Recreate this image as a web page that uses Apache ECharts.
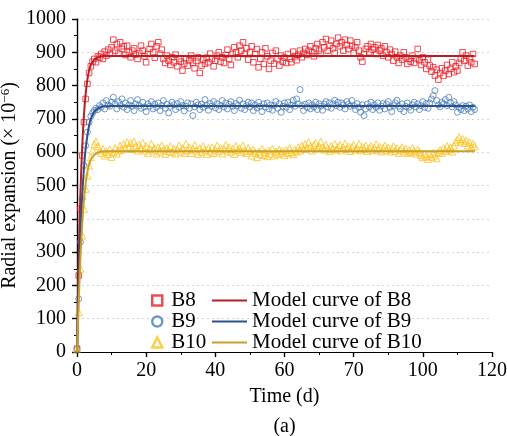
<!DOCTYPE html>
<html>
<head>
<meta charset="utf-8">
<script src="https://cdn.jsdelivr.net/npm/echarts@6/dist/echarts.min.js"></script>
<style>
  html, body { margin: 0; padding: 0; background: #fff; }
  #chart { width: 507px; height: 436px; }
</style>
</head>
<body>
<div id="chart"></div>
<script>
// measurement times (d)
const days = [
  0, 0.5, 1, 1.5, 2, 2.5, 3, 3.5, 4, 4.5, 5, 5.5, 6, 6.5, 7, 7.5, 8, 8.5, 9, 9.5,
  10, 10.5, 11, 11.5, 12, 12.5, 13, 13.5, 14, 14.5, 15, 15.5, 16, 16.5, 17, 17.5, 18, 18.5, 19, 19.5,
  20, 20.5, 21, 21.5, 22, 22.5, 23, 23.5, 24, 24.5, 25, 25.5, 26, 26.5, 27, 27.5, 28, 28.5, 29, 29.5,
  30, 30.5, 31, 31.5, 32, 32.5, 33, 33.5, 34, 34.5, 35, 35.5, 36, 36.5, 37, 37.5, 38, 38.5, 39, 39.5,
  40, 40.5, 41, 41.5, 42, 42.5, 43, 43.5, 44, 44.5, 45, 45.5, 46, 46.5, 47, 47.5, 48, 48.5, 49, 49.5,
  50, 50.5, 51, 51.5, 52, 52.5, 53, 53.5, 54, 54.5, 55, 55.5, 56, 56.5, 57, 57.5, 58, 58.5, 59, 59.5,
  60, 60.5, 61, 61.5, 62, 62.5, 63, 63.5, 64, 64.5, 65, 65.5, 66, 66.5, 67, 67.5, 68, 68.5, 69, 69.5,
  70, 70.5, 71, 71.5, 72, 72.5, 73, 73.5, 74, 74.5, 75, 75.5, 76, 76.5, 77, 77.5, 78, 78.5, 79, 79.5,
  80, 80.5, 81, 81.5, 82, 82.5, 83, 83.5, 84, 84.5, 85, 85.5, 86, 86.5, 87, 87.5, 88, 88.5, 89, 89.5,
  90, 90.5, 91, 91.5, 92, 92.5, 93, 93.5, 94, 94.5, 95, 95.5, 96, 96.5, 97, 97.5, 98, 98.5, 99, 99.5,
  100, 100.5, 101, 101.5, 102, 102.5, 103, 103.5, 104, 104.5, 105, 105.5, 106, 106.5, 107, 107.5, 108, 108.5, 109, 109.5,
  110, 110.5, 111, 111.5, 112, 112.5, 113, 113.5, 114, 114.5, 115
];

// measured radial expansion (x 10^-6)
const b8 = [
  10, 230, 430, 590, 690, 760, 805, 838, 858, 872, 880, 870, 888, 884, 895, 880, 902, 890, 908, 895,
  915, 938, 905, 925, 898, 930, 910, 918, 892, 920, 900, 885, 905, 912, 893, 880, 898, 920, 905, 888,
  870, 895, 910, 925, 900, 884, 918, 930, 896, 908, 880, 868, 890, 875, 862, 885, 870, 893, 858, 880,
  872, 845, 866, 882, 860, 876, 890, 868, 852, 874, 885, 838, 860, 878, 866, 884, 870, 896, 880, 858,
  875, 890, 900, 872, 885, 868, 892, 908, 880, 862, 895, 915, 900, 885, 920, 905, 930, 895, 912, 878,
  900, 918, 870, 895, 910, 855, 880, 900, 865, 912, 888, 850, 875, 898, 866, 905, 880, 860, 890, 872,
  884, 868, 895, 880, 870, 902, 888, 876, 893, 905, 885, 898, 910, 892, 905, 918, 900, 888, 912, 925,
  905, 895, 930, 915, 940, 905, 920, 935, 912, 898, 925, 944, 918, 930, 905, 938, 922, 910, 935, 920,
  898, 915, 930, 905, 885, 872, 895, 910, 918, 900, 925, 908, 915, 895, 922, 905, 912, 890, 918, 900,
  885, 908, 895, 875, 902, 885, 868, 890, 878, 900, 885, 865, 880, 872, 890, 868, 880, 910, 876, 862,
  885, 870, 850, 878, 860, 842, 855, 830, 848, 818, 838, 852, 830, 845, 862, 835, 850, 870, 840, 858,
  845, 868, 880, 900, 875, 890, 860, 882, 870, 895, 865
];
const b9 = [
  10, 160, 330, 460, 560, 620, 660, 690, 708, 718, 725, 732, 728, 740, 735, 748, 730, 755, 742, 738,
  750, 765, 745, 730, 752, 740, 760, 735, 748, 728, 742, 755, 738, 725, 745, 758, 740, 732, 750, 736,
  722, 745, 738, 752, 730, 744, 735, 748, 725, 740, 755, 732, 744, 718, 738, 750, 742, 728, 746, 735,
  752, 740, 724, 738, 748, 732, 745, 710, 736, 750, 742, 728, 744, 735, 758, 740, 726, 746, 738, 752,
  733, 745, 728, 740, 755, 736, 748, 730, 744, 752, 738, 725, 746, 740, 756, 732, 745, 728, 740, 750,
  736, 748, 725, 742, 733, 750, 738, 722, 745, 735, 748, 730, 742, 726, 740, 752, 732, 745, 720, 738,
  748, 735, 750, 728, 742, 756, 738, 760, 745, 788, 740, 725, 744, 734, 748, 730, 742, 736, 750, 728,
  745, 738, 726, 744, 752, 736, 748, 732, 745, 756, 740, 750, 735, 748, 742, 730, 752, 744, 738, 755,
  740, 728, 746, 735, 720, 742, 710, 730, 745, 736, 750, 728, 742, 735, 748, 726, 738, 746, 730, 744,
  752, 735, 722, 740, 748, 756, 738, 730, 745, 722, 738, 748, 735, 726, 742, 750, 736, 745, 728, 740,
  752, 735, 746, 732, 748, 760, 770, 785, 755, 742, 736, 750, 745, 758, 740, 765, 748, 736, 752, 742,
  720, 735, 728, 740, 725, 738, 730, 742, 722, 735, 728
];
const b10 = [
  10, 120, 250, 350, 430, 490, 530, 560, 585, 605, 625, 632, 618, 605, 598, 610, 590, 602, 595, 608,
  586, 600, 612, 596, 605, 620, 608, 625, 612, 630, 615, 628, 610, 632, 618, 605, 622, 612, 628, 605,
  618, 598, 610, 625, 605, 612, 596, 615, 602, 620, 608, 595, 612, 603, 618, 600, 610, 596, 608, 620,
  602, 612, 598, 625, 606, 615, 598, 610, 622, 605, 595, 612, 600, 618, 606, 595, 612, 602, 615, 598,
  608, 620, 603, 612, 596, 610, 622, 605, 615, 600, 610, 595, 618, 606, 612, 600, 620, 605, 598, 612,
  604, 590, 608, 598, 585, 602, 595, 610, 592, 600, 588, 605, 596, 610, 590, 602, 595, 608, 598, 604,
  592, 606, 598, 612, 600, 594, 608, 602, 615, 605, 620, 610, 625, 612, 630, 618, 605, 622, 628, 612,
  618, 632, 615, 608, 622, 612, 604, 618, 610, 625, 608, 616, 622, 605, 614, 626, 610, 618, 604, 615,
  622, 608, 612, 625, 606, 616, 610, 620, 604, 612, 618, 606, 614, 624, 608, 616, 603, 612, 620, 606,
  614, 602, 610, 618, 604, 612, 598, 608, 615, 602, 610, 598, 606, 600, 612, 604, 596, 608, 600, 592,
  585, 596, 588, 580, 594, 586, 598, 590, 582, 600, 606, 598, 612, 604, 618, 608, 615, 602, 620, 630,
  638, 645, 632, 640, 628, 635, 620, 630, 615, 625, 618
];

// model curves
const modelDays = [0, 0.5, 1, 1.5, 2, 2.5, 3, 3.5, 4, 5, 6, 7, 8, 10, 12, 15, 20, 30, 50, 80, 115];
const modelB8 = [0, 290, 480, 615, 710, 775, 818, 845, 862, 878, 885, 888, 889, 889, 889, 889, 889, 889, 889, 889, 889];
const modelB9 = [0, 200, 360, 470, 550, 610, 650, 680, 700, 722, 731, 736, 738, 739, 739, 739, 739, 739, 739, 739, 739];
const modelB10 = [0, 150, 285, 380, 455, 505, 540, 563, 578, 592, 599, 602, 603, 603, 603, 603, 603, 603, 603, 603, 603];

const xTickLabels = { 0: '0', 20: '20', 40: '40', 60: '60', 80: '70', 100: '100', 120: '120' };

const FONT = 'Liberation Serif';
const RED = '#ee1d25', BLUE = '#4a7dba', YELLOW = '#fcc21c';
const RED_L = '#b81f25', BLUE_L = '#2e5288', YELLOW_L = '#c9a028';

const pairs = (xs, ys) => xs.map((x, i) => [x, ys[i]]);

const chart = echarts.init(document.getElementById('chart'), null, { renderer: 'canvas' });

const axisLine = { show: true, lineStyle: { color: '#000', width: 1.2 } };
const legendText = { fontFamily: FONT, fontSize: 21, color: '#000', lineHeight: 19 };

chart.setOption({
  animation: false,
  backgroundColor: '#fff',
  textStyle: { fontFamily: FONT },
  grid: { left: 77, right: 15, top: 19, bottom: 84, containLabel: false, outerBoundsMode: 'none' },
  legend: [
    {
      orient: 'vertical', left: 146, top: 285, itemWidth: 10, itemHeight: 10, itemGap: 0,
      textStyle: Object.assign({ padding: [0, 0, 0, 4] }, legendText),
      data: [
        { name: 'B8', icon: 'rect', itemStyle: { color: '#fff', borderColor: RED, borderWidth: 2.5 } },
        { name: 'B9', icon: 'circle', itemStyle: { color: '#fff', borderColor: BLUE, borderWidth: 2.5 } },
        { name: 'B10', icon: 'triangle', itemStyle: { color: '#fff', borderColor: YELLOW, borderWidth: 2.5 } }
      ]
    },
    {
      orient: 'vertical', left: 207, top: 285, itemWidth: 35, itemHeight: 2, itemGap: 0,
      textStyle: legendText,
      data: [
        { name: 'Model curve of B8', icon: 'rect', itemStyle: { color: RED_L, borderWidth: 0 } },
        { name: 'Model curve of B9', icon: 'rect', itemStyle: { color: BLUE_L, borderWidth: 0 } },
        { name: 'Model curve of B10', icon: 'rect', itemStyle: { color: YELLOW_L, borderWidth: 0 } }
      ]
    }
  ],
  xAxis: [
    {
      type: 'value', position: 'bottom', min: 0, max: 120, interval: 20,
      axisLine,
      axisTick: { show: true, inside: false, length: 5, lineStyle: { color: '#000', width: 1.2 } },
      minorTick: { show: true, splitNumber: 2, length: 3, lineStyle: { color: '#000', width: 1 } },
      axisLabel: {
        margin: 9, fontFamily: FONT, fontSize: 20, color: '#000',
        formatter: v => xTickLabels[v]
      },
      splitLine: { show: false },
      name: 'Time (d)', nameLocation: 'middle', nameGap: 35, nameMoveOverlap: false,
      nameTextStyle: { fontFamily: FONT, fontSize: 20, color: '#000' }
    },
    {
      type: 'value', position: 'top', min: 0, max: 120, interval: 20,
      axisLine,
      axisTick: { show: true, inside: true, length: 5, lineStyle: { color: '#000', width: 1.2 } },
      minorTick: { show: true, splitNumber: 2, length: 3, lineStyle: { color: '#000', width: 1 } },
      axisLabel: { show: false },
      splitLine: { show: false }
    }
  ],
  yAxis: [
    {
      type: 'value', position: 'left', min: 0, max: 1000, interval: 100,
      axisLine,
      axisTick: { show: true, inside: false, length: 5, lineStyle: { color: '#000', width: 1.2 } },
      minorTick: { show: true, splitNumber: 2, length: 3, lineStyle: { color: '#000', width: 1 } },
      axisLabel: { margin: 11, fontFamily: FONT, fontSize: 20, color: '#000', formatter: v => String(v) },
      splitLine: { show: true, lineStyle: { color: '#d4d4d4', type: [2, 3], width: 1 } },
      name: 'Radial expansion (× 10{sup|−6})', nameLocation: 'middle', nameGap: 56, nameMoveOverlap: false,
      nameTextStyle: {
        fontFamily: FONT, fontSize: 20, color: '#000',
        rich: { sup: { fontFamily: FONT, fontSize: 13, color: '#000', verticalAlign: 'top', padding: [0, 0, 9, 0] } }
      }
    },
    {
      type: 'value', position: 'right', min: 0, max: 1000, interval: 100,
      axisLine,
      axisTick: { show: true, inside: true, length: 5, lineStyle: { color: '#000', width: 1.2 } },
      minorTick: { show: true, splitNumber: 2, length: 3, lineStyle: { color: '#000', width: 1 } },
      axisLabel: { show: false },
      splitLine: { show: false }
    }
  ],
  series: [
    {
      name: 'B8', type: 'scatter', symbol: 'rect', symbolSize: 5.5,
      itemStyle: { color: 'rgba(255,255,255,0)', borderColor: RED, borderWidth: 1 },
      data: pairs(days, b8), z: 2
    },
    {
      name: 'B9', type: 'scatter', symbol: 'circle', symbolSize: 6,
      itemStyle: { color: 'rgba(255,255,255,0)', borderColor: BLUE, borderWidth: 1 },
      data: pairs(days, b9), z: 2
    },
    {
      name: 'B10', type: 'scatter', symbol: 'triangle', symbolSize: 7,
      itemStyle: { color: 'rgba(255,255,255,0)', borderColor: YELLOW, borderWidth: 1 },
      data: pairs(days, b10), z: 2
    },
    {
      name: 'Model curve of B8', type: 'line', smooth: 0.3, symbol: 'none',
      lineStyle: { color: RED_L, width: 2 }, itemStyle: { color: RED_L },
      data: pairs(modelDays, modelB8), z: 3
    },
    {
      name: 'Model curve of B9', type: 'line', smooth: 0.3, symbol: 'none',
      lineStyle: { color: BLUE_L, width: 2 }, itemStyle: { color: BLUE_L },
      data: pairs(modelDays, modelB9), z: 3
    },
    {
      name: 'Model curve of B10', type: 'line', smooth: 0.3, symbol: 'none',
      lineStyle: { color: YELLOW_L, width: 2 }, itemStyle: { color: YELLOW_L },
      data: pairs(modelDays, modelB10), z: 3
    }
  ],
  graphic: [
    {
      type: 'text', x: 284.5, y: 427,
      style: { text: '(a)', fontFamily: FONT, fontSize: 20, fill: '#000', textAlign: 'center', textVerticalAlign: 'middle' }
    }
  ]
});
</script>
</body>
</html>
